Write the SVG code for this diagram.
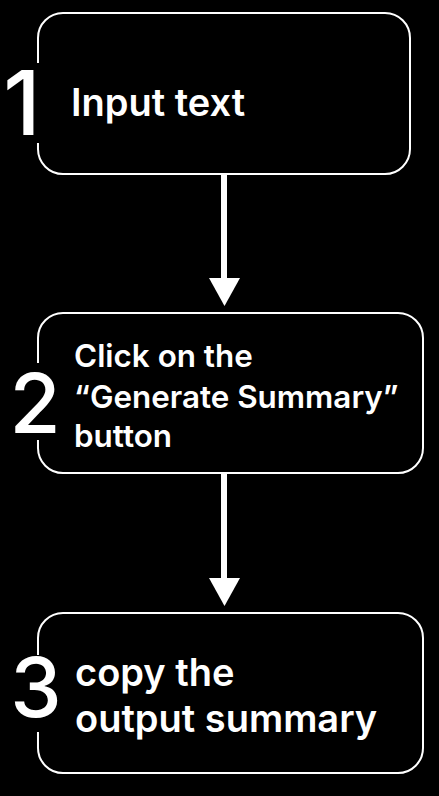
<svg xmlns="http://www.w3.org/2000/svg" width="439" height="796" viewBox="0 0 439 796">
<style>
.box{fill:#000;stroke:#fff;stroke-width:2}
.mask{fill:#000}
.num{font-family:Inter,"Liberation Sans",sans-serif;font-weight:500;fill:#fff;text-anchor:middle}
.lbl{font-family:Inter,"Liberation Sans",sans-serif;font-weight:600;fill:#fff}
.shaft{stroke:#fff;stroke-width:6}
</style>
<rect width="439" height="796" fill="#000"/>
<g id="connectors">
<line class="shaft" x1="224" y1="174" x2="224" y2="280"/>
<path d="M209 278 L240 278 L224.5 306 Z" fill="#fff"/>
<line class="shaft" x1="224" y1="473" x2="224" y2="580"/>
<path d="M209 578 L240 578 L224.5 606 Z" fill="#fff"/>
</g>
<g id="node1">
<rect class="box" x="38" y="13" width="372" height="161" rx="25"/>
<rect class="mask" x="30" y="63" width="16" height="80"/>
<text class="num" x="22" y="135" font-size="90">1</text>
<text class="lbl" x="71" y="116" font-size="38">Input text</text>
</g>
<g id="node2">
<rect class="box" x="38" y="313" width="385" height="160" rx="25"/>
<rect class="mask" x="30" y="363" width="16" height="77"/>
<text class="num" x="35" y="433" font-size="83">2</text>
<text class="lbl" font-size="31.4"><tspan x="74" y="367">Click on the</tspan><tspan x="74" y="408">“Generate Summary”</tspan><tspan x="74" y="447">button</tspan></text>
</g>
<g id="node3">
<rect class="box" x="38" y="613" width="385" height="160" rx="25"/>
<rect class="mask" x="30" y="655" width="16" height="77"/>
<text class="num" x="36" y="717" font-size="82">3</text>
<text class="lbl" font-size="38"><tspan x="75" y="686">copy the</tspan><tspan x="75" y="732">output summary</tspan></text>
</g>
</svg>
